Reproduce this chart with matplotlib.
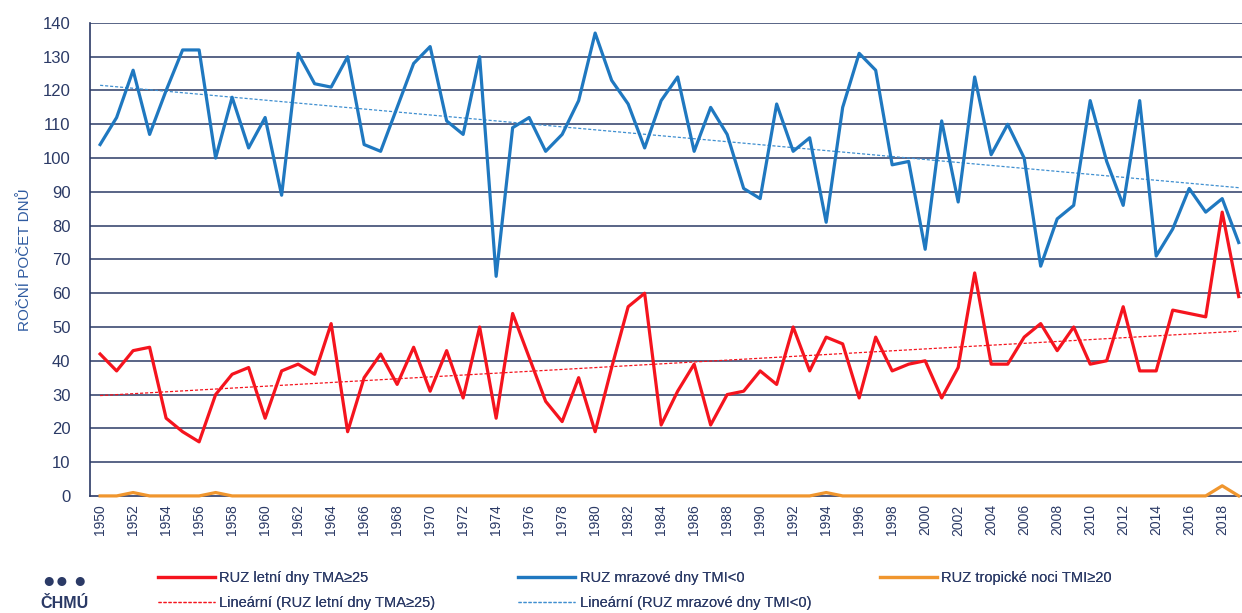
# annual counts of summer days, frost days and tropical nights (RUZ station)

import numpy as np
import matplotlib.pyplot as plt

plt.rcParams['font.family'] = ['Liberation Sans Narrow', 'Liberation Sans', 'DejaVu Sans']

years = list(range(1950, 2020))

# letni dny TMA>=25
summer = [42, 37, 43, 44, 23, 19, 16, 30, 36, 38,
          23, 37, 39, 36, 51, 19, 35, 42, 33, 44,
          31, 43, 29, 50, 23, 54, 41, 28, 22, 35,
          19, 38, 56, 60, 21, 31, 39, 21, 30, 31,
          37, 33, 50, 37, 47, 45, 29, 47, 37, 39,
          40, 29, 38, 66, 39, 39, 47, 51, 43, 50,
          39, 40, 56, 37, 37, 55, 54, 53, 84, 59]

# mrazove dny TMI<0
frost = [104, 112, 126, 107, 120, 132, 132, 100, 118, 103,
         112, 89, 131, 122, 121, 130, 104, 102, 115, 128,
         133, 111, 107, 130, 65, 109, 112, 102, 107, 117,
         137, 123, 116, 103, 117, 124, 102, 115, 107, 91,
         88, 116, 102, 106, 81, 115, 131, 126, 98, 99,
         73, 111, 87, 124, 101, 110, 100, 68, 82, 86,
         117, 99, 86, 117, 71, 79, 91, 84, 88, 75]

# tropicke noci TMI>=20
tropical = [0, 0, 1, 0, 0, 0, 0, 1, 0, 0,
            0, 0, 0, 0, 0, 0, 0, 0, 0, 0,
            0, 0, 0, 0, 0, 0, 0, 0, 0, 0,
            0, 0, 0, 0, 0, 0, 0, 0, 0, 0,
            0, 0, 0, 0, 1, 0, 0, 0, 0, 0,
            0, 0, 0, 0, 0, 0, 0, 0, 0, 0,
            0, 0, 0, 0, 0, 0, 0, 0, 3, 0]

y_ticks = list(range(0, 150, 10))
x_ticks = list(range(1950, 2020, 2))

red = '#f5141e'
blue = '#1f78c0'
orange = '#f0962e'
navy = '#2b3a66'

x = np.array(years)
red_fit = np.polyval(np.polyfit(x, summer, 1), x)
blue_fit = np.polyval(np.polyfit(x, frost, 1), x)

fig = plt.figure(figsize=(12.42, 6.13), dpi=100)
ax = fig.add_axes([0.0725, 0.191, 0.9275, 0.7716])

for t in y_ticks[1:]:
    ax.axhline(t, color=navy, lw=1.1, zorder=1)

l1, = ax.plot(x, summer, color=red, lw=2.3, zorder=3, label='RUZ letní dny TMA≥25')
l2, = ax.plot(x, frost, color=blue, lw=2.3, zorder=3, label='RUZ mrazové dny TMI<0')
l3, = ax.plot(x, tropical, color=orange, lw=2.3, zorder=4, clip_on=False,
              label='RUZ tropické noci TMI≥20')
l4, = ax.plot(x, red_fit, color=red, lw=0.9, ls=(0, (2.5, 1.5)), zorder=2,
              label='Lineární (RUZ letní dny TMA≥25)')
l5, = ax.plot(x, blue_fit, color='#3f8fd0', lw=0.9, ls=(0, (2.5, 1.5)), zorder=2,
              label='Lineární (RUZ mrazové dny TMI<0)')

ax.set_xlim(1949.39, 2019.2)
ax.set_ylim(0, 140)
ax.set_yticks(y_ticks)
ax.set_xticks(x_ticks)
ax.set_xticklabels([str(v) for v in x_ticks], rotation=90)
ax.tick_params(axis='y', length=0, pad=14, labelsize=12, colors=navy)
ax.tick_params(axis='x', length=0, pad=6, labelsize=10, colors=navy)
for s in ['top', 'right']:
    ax.spines[s].set_visible(False)
ax.spines['left'].set_color(navy)
ax.spines['left'].set_linewidth(1.2)
ax.spines['bottom'].set_color(navy)
ax.spines['bottom'].set_linewidth(1.2)

ax.set_ylabel('ROČNÍ POČET DNŮ', color='#2e5aa0', fontsize=11, labelpad=8)

# legend in three fixed columns, like the Excel original
leg_kw = dict(loc='upper left', frameon=False, fontsize=10.5, handlelength=3.9,
              handletextpad=0.3, labelspacing=0.75, labelcolor=navy, borderpad=0)
for handles, x0 in [([l1, l4], 0.1215), ([l2, l5], 0.4115), ([l3], 0.7025)]:
    fig.add_artist(fig.legend(handles=handles, bbox_to_anchor=(x0, 0.08), **leg_kw))

# logo
fig.text(0.052, 0.052, '●● ●', color=navy, fontsize=15, ha='center', va='center')
fig.text(0.052, 0.016, 'ČHMÚ', color=navy, fontsize=11.5, fontweight='bold',
         ha='center', va='center')

fig.savefig('out.png', dpi=100)
